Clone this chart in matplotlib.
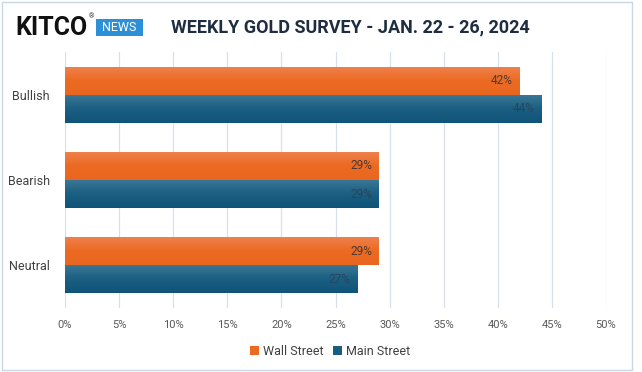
import numpy as np
import matplotlib.pyplot as plt
from matplotlib.patches import FancyBboxPatch
from matplotlib.colors import LinearSegmentedColormap

categories = ["Bullish", "Bearish", "Neutral"]
wall_street = [42, 29, 29]
main_street = [44, 29, 27]
x_ticks = [0, 5, 10, 15, 20, 25, 30, 35, 40, 45, 50]

plt.rcParams["font.family"] = ["Roboto", "DejaVu Sans"]

orange_map = LinearSegmentedColormap.from_list("o", ["#EF8250", "#EC6A22", "#E8661F"])
blue_map = LinearSegmentedColormap.from_list("b", ["#3D7897", "#1B5F82", "#0F5479"])

fig = plt.figure(figsize=(6.42, 3.72), dpi=100)
ax = fig.add_axes([65 / 642, 1 - 308 / 372, 541 / 642, 256 / 372])

ypos = np.arange(len(categories))
h = 0.33
grad = np.linspace(0, 1, 64).reshape(-1, 1)


def gradient_bars(vals, offset, cmap):
    bars = ax.barh(ypos + offset, vals, height=h, color=cmap(0.6), zorder=2)
    for b in bars:
        x0, y0, w, hh = b.get_x(), b.get_y(), b.get_width(), b.get_height()
        # y axis is inverted, so origin="lower" puts the light end on top
        im = ax.imshow(grad, cmap=cmap, aspect="auto", extent=[x0, x0 + w, y0, y0 + hh],
                       origin="lower", zorder=3)
        im.set_clip_path(b)
    return bars


wb = gradient_bars(wall_street, -h / 2, orange_map)
mb = gradient_bars(main_street, h / 2, blue_map)

for bars, vals, col in [(wb, wall_street, "#4A3A33"), (mb, main_street, "#27455A")]:
    for b, v in zip(bars, vals):
        ax.text(b.get_width() - 0.6, b.get_y() + b.get_height() / 2, f"{v}%",
                ha="right", va="center", fontsize=8.5, color=col, zorder=4)

ax.set_xlim(0, 50)
ax.set_ylim(len(categories) - 0.5, -0.5)
ax.set_xticks(x_ticks)
ax.set_xticklabels([f"{t}%" for t in x_ticks])
ax.set_yticks(ypos)
ax.set_yticklabels(categories)
ax.tick_params(axis="x", length=0, pad=9, labelsize=8, labelcolor="#595959")
ax.tick_params(axis="y", length=0, pad=11, labelsize=9, labelcolor="#404040")
ax.grid(axis="x", color="#D6E0EC", linewidth=0.9, zorder=0)
for s in ax.spines.values():
    s.set_visible(False)

ax.legend([wb[0], mb[0]], ["Wall Street", "Main Street"], loc="upper center",
          bbox_to_anchor=(0.49, -0.1), ncol=2, frameon=False, fontsize=9,
          handlelength=0.7, handleheight=0.7, handletextpad=0.3, columnspacing=0.8,
          labelcolor="#404040")

# header
fig.text(15 / 642, 1 - 28 / 372, "KITCO", fontsize=18, fontweight="bold",
         color="#111111", va="center", ha="left")
fig.text(89 / 642, 1 - 17 / 372, "®", fontsize=5, color="#333333", va="center")
fig.patches.append(FancyBboxPatch((96 / 642, 1 - 36 / 372), 47 / 642, 17 / 372,
                                  boxstyle="square,pad=0", transform=fig.transFigure,
                                  facecolor="#2D8FD5", edgecolor="none"))
fig.text(119.5 / 642, 1 - 27.5 / 372, "NEWS", fontsize=9, color="white",
         ha="center", va="center")
fig.text(350 / 642, 1 - 27 / 372, "WEEKLY GOLD SURVEY - JAN. 22 - 26, 2024",
         fontsize=13, fontweight="bold", color="#1E2D40", ha="center", va="center")

# outer frame
fig.patches.append(FancyBboxPatch((2 / 642, 2 / 372), 630 / 642, 368 / 372,
                                  boxstyle="square,pad=0", transform=fig.transFigure,
                                  facecolor="none", edgecolor="#C9D7E6", linewidth=1))

fig.savefig("out.png", dpi=100)
